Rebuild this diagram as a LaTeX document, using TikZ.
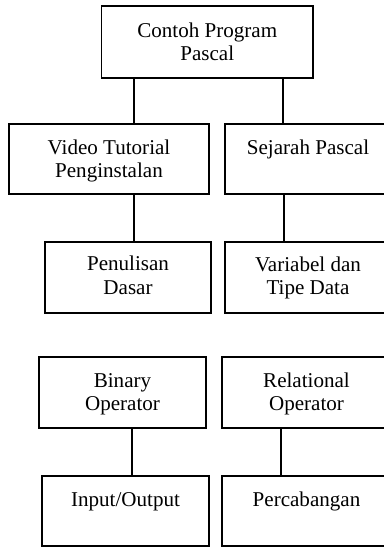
\documentclass[tikz,border=0pt]{standalone}
\usepackage{fontspec}
\setmainfont{Liberation Serif}
\usepackage{tikz}
\newcommand{\boxfont}{\fontsize{15.8pt}{17.6pt}\selectfont}
\tikzset{
  box/.style={draw, line width=1pt, inner sep=0pt, outer sep=0pt},
  lbl/.style={anchor=base, align=center, inner sep=0pt, font=\boxfont},
  link/.style={line width=1pt}
}

\begin{document}
\begin{tikzpicture}[x=0.75pt,y=0.75pt,yscale=-1,xscale=1]
\useasboundingbox (0,0) rectangle (384,547);

%Shape: Rectangle
\node [box, minimum width=158.6pt, minimum height=54pt] (top) at (207.25,42) {};
%Shape: Rectangle
\node [box, minimum width=150pt, minimum height=52.5pt] (vid) at (109,159) {};
%Shape: Rectangle
\node [box, minimum width=124.5pt, minimum height=52.5pt] (sej) at (308,159) {};
%Shape: Rectangle
\node [box, minimum width=124.5pt, minimum height=53.25pt] (pen) at (128,277.5) {};
%Shape: Rectangle
\node [box, minimum width=124.5pt, minimum height=53.25pt] (var) at (308,277.5) {};
%Shape: Rectangle
\node [box, minimum width=125.25pt, minimum height=53.25pt] (bin) at (122.5,392.5) {};
%Shape: Rectangle
\node [box, minimum width=126.75pt, minimum height=53.25pt] (rel) at (306.5,392.5) {};
%Shape: Rectangle
\node [box, minimum width=125.25pt, minimum height=52.5pt] (io) at (125.5,511) {};
%Shape: Rectangle
\node [box, minimum width=126.75pt, minimum height=52.5pt] (pcb) at (306.5,511) {};

% Text Node (two lines: base is the last line)
\node [lbl] (topTxt) at ([yshift=41.1pt]top.north) {Contoh Program\\Pascal};
% Text Node
\node [lbl] (vidTxt) at ([yshift=40.1pt]vid.north) {Video Tutorial\\Penginstalan};
% Text Node
\node [lbl] (sejTxt) at ([yshift=22.5pt]sej.north) {Sejarah Pascal};
% Text Node
\node [lbl] (penTxt) at ([yshift=39.1pt]pen.north) {Penulisan\\Dasar};
% Text Node
\node [lbl] (varTxt) at ([yshift=39.6pt]var.north) {Variabel dan\\Tipe Data};
% Text Node
\node [lbl] (binTxt) at ([yshift=40.1pt]bin.north) {Binary\\Operator};
% Text Node
\node [lbl] (relTxt) at ([yshift=40.1pt]rel.north) {Relational\\Operator};
% Text Node
\node [lbl] (ioTxt) at ([yshift=23pt]io.north) {Input/Output};
% Text Node
\node [lbl] (pcbTxt) at ([yshift=23pt]pcb.north) {Percabangan};

%Straight Lines
\path (top.south west) ++(32.5,0) coordinate (c1);
\draw [link] (c1) -- (c1 |- vid.north);
%Straight Lines
\path (top.south east) ++(-30,0) coordinate (c2);
\draw [link] (c2) -- (c2 |- sej.north);
%Straight Lines
\path (vid.south west) ++(125,0) coordinate (c3);
\draw [link] (c3) -- (c3 |- pen.north);
%Straight Lines
\path (sej.south west) ++(59,0) coordinate (c4);
\draw [link] (c4) -- (c4 |- var.north);
%Straight Lines
\path (bin.south west) ++(93,0) coordinate (c5);
\draw [link] (c5) -- (c5 |- io.north);
%Straight Lines
\path (rel.south west) ++(59,0) coordinate (c6);
\draw [link] (c6) -- (c6 |- pcb.north);

\end{tikzpicture}
\end{document}
